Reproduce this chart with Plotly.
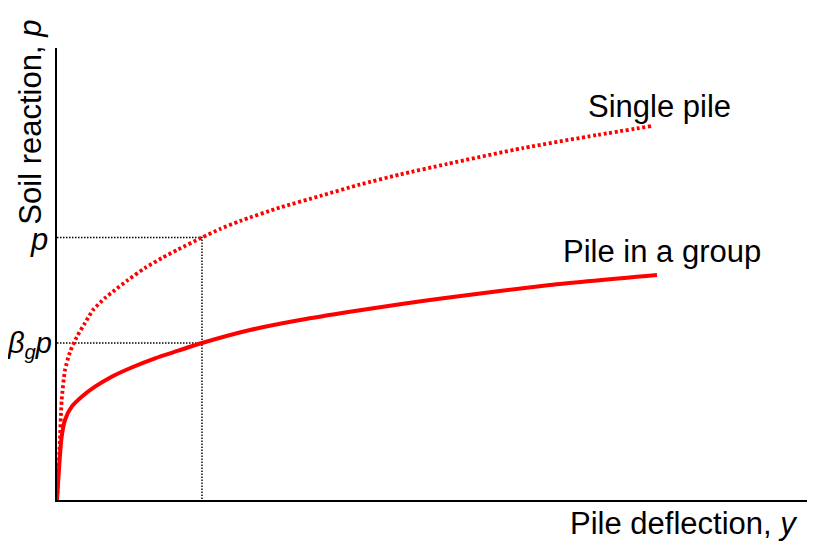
import plotly.graph_objects as go

# Data (x = pile deflection, y = soil reaction, arbitrary units)
single_x = [0, 2.5, 4.7, 8, 13, 19.7, 28, 36, 48, 58, 71, 88, 105, 121, 145, 163, 183, 223, 263, 303, 343, 390, 466, 540, 595]
single_y = [0, 50, 100, 130, 148, 163, 177, 190, 202, 210, 220, 232, 242, 250.5, 262.5, 271, 279, 292.5, 304, 315.5, 325.5, 336, 352, 365, 374]

group_x = [0, 4.5, 8, 14.7, 24.7, 38, 54.7, 74.7, 98, 121.3, 145, 193, 243, 293, 343, 390, 493, 600]
group_y = [0, 62, 80, 93.3, 103.3, 113.3, 123.3, 132.5, 141.7, 149.3, 157, 170, 180, 188.3, 195.7, 202.3, 215, 225]

ref_x = 145  # deflection at which the reference lines are drawn

x_label = "Pile deflection, <i>y</i>"
y_label = "Soil reaction, <i>p</i>"
single_label = "Single pile"
group_label = "Pile in a group"
p_label = "<i>p</i>"
bp_label = "<i>β<sub>g</sub>p</i>"

FONT = "Liberation Sans, Arial, sans-serif"
FS = 31

fig = go.Figure()

yp = single_y[single_x.index(ref_x)]
ybp = group_y[group_x.index(ref_x)]

ref_line = dict(color="black", width=1.4, dash="1.5px,1.5px")
fig.add_trace(go.Scatter(x=[0, ref_x, ref_x], y=[yp, yp, 0], mode="lines", line=ref_line,
                         hoverinfo="skip", showlegend=False))
fig.add_trace(go.Scatter(x=[0, ref_x], y=[ybp, ybp], mode="lines", line=ref_line,
                         hoverinfo="skip", showlegend=False))

fig.add_trace(go.Scatter(x=single_x, y=single_y, mode="lines", name=single_label,
                         line=dict(color="#ff0000", width=3.8, dash="3px,2.6px", shape="spline", smoothing=0.6),
                         showlegend=False))
fig.add_trace(go.Scatter(x=group_x, y=group_y, mode="lines", name=group_label,
                         line=dict(color="#ff0000", width=4, shape="spline", smoothing=0.6),
                         showlegend=False))

annos = [
    dict(x=602.5, y=394, text=single_label, xref="x", yref="y", size=FS,
         showarrow=False, xanchor="center", yanchor="middle"),
    dict(x=605, y=249, text=group_label, xref="x", yref="y", size=FS,
         showarrow=False, xanchor="center", yanchor="middle"),
    dict(x=0, y=yp, text=p_label, xref="x", yref="y", showarrow=False, size=FS,
         xanchor="right", yanchor="middle", xshift=-7, yshift=-2),
    dict(x=0, y=ybp, text=bp_label, xref="x", yref="y", showarrow=False, size=29,
         xanchor="right", yanchor="middle", xshift=-3, yshift=-2),
    dict(x=743, y=-0.053, text=x_label, xref="x", yref="paper", showarrow=False, size=FS,
         xanchor="right", yanchor="middle"),
    dict(x=-0.0347, y=0.837, text=y_label, xref="paper", yref="paper", showarrow=False, size=FS,
         xanchor="center", yanchor="middle", textangle=-90),
]
for a in annos:
    a["font"] = dict(family=FONT, size=a.pop("size"), color="black")
fig.update_layout(annotations=annos)

# The page body has an 8px margin, so the figure is sized/margined to place
# the plotting area at the same place as in the reference image.
fig.update_layout(
    width=801, height=538,
    margin=dict(l=49, r=2, t=40, b=46),
    paper_bgcolor="white", plot_bgcolor="white",
    xaxis=dict(range=[0, 750], showgrid=False, zeroline=False, showticklabels=False,
               ticks="", showline=True, linecolor="black", linewidth=2, fixedrange=True),
    yaxis=dict(range=[0, 452], showgrid=False, zeroline=False, showticklabels=False,
               ticks="", showline=True, linecolor="black", linewidth=2, fixedrange=True),
    font=dict(family=FONT, color="black"),
)

fig.write_html("out.html", config={"displayModeBar": False})
